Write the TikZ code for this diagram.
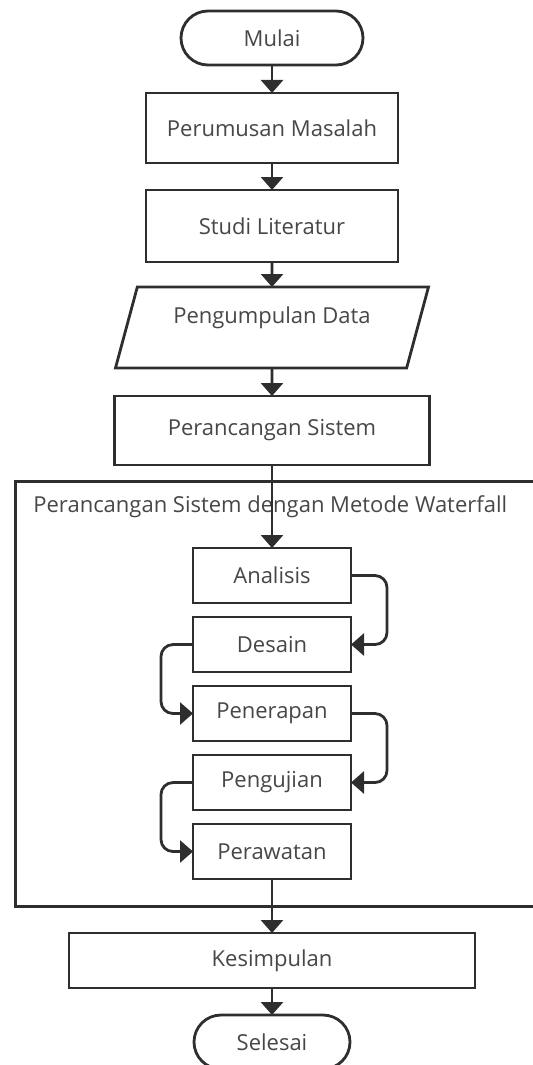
\documentclass[tikz,border=0pt]{standalone}
\usepackage{fontspec}
\setmainfont{Open Sans}
\usetikzlibrary{arrows.meta,positioning,shapes.geometric}

\begin{document}
\begin{tikzpicture}[x=1pt, y=1pt, node distance=14pt,
    every node/.style={font=\fontsize{11}{13}\selectfont, text=black!72},
    box/.style={rectangle, draw=black!82, line width=1.4pt, outer sep=0pt, fill=white, text centered},
    terminal/.style={box, rounded corners=13.5pt, minimum width=78pt, minimum height=27pt},
    stage/.style={box, minimum width=79pt, minimum height=27.5pt},
    conn/.style={-{Triangle[width=11pt,length=6.5pt]}, draw=black!82, line width=1.4pt}]

    \useasboundingbox (0,0) rectangle (266.5,-532.5);

    % frame of the waterfall part
    \node (Waterfall) [rectangle, draw=black!82, line width=1.3pt, anchor=north west, minimum width=268pt, minimum height=212.5pt] at (7,-240) {};
    \node (WaterfallLabel) [anchor=west, inner sep=0pt] at (16.5,-253.5) {Perancangan Sistem dengan Metode Waterfall};

    \node (Mulai) [terminal, minimum width=91pt] at (136,-19) {Mulai};

    \node (Perumusan) [box, minimum width=126pt, minimum height=35pt, below=of Mulai] {Perumusan Masalah};

    \node (Studi) [box, minimum width=126pt, minimum height=36pt, below=13.5pt of Perumusan] {Studi Literatur};

    \node (Pengumpulan) [trapezium, draw=black!82, line width=1.4pt, outer sep=0pt, fill=white, trapezium left angle=68, trapezium right angle=112, trapezium stretches body=true, minimum width=156.5pt, minimum height=40.5pt, text depth=12pt, below=12.5pt of Studi] {Pengumpulan Data};

    \node (Perancangan) [box, minimum width=157.5pt, minimum height=34.5pt, below=of Pengumpulan] {Perancangan Sistem};

    % tahapan waterfall
    \node (Analisis) [stage, below=41.5pt of Perancangan] {Analisis};
    \node (Desain) [stage, below=7pt of Analisis] {Desain};
    \node (Penerapan) [stage, below=7pt of Desain] {Penerapan};
    \node (Pengujian) [stage, below=7pt of Penerapan] {Pengujian};
    \node (Perawatan) [stage, below=7pt of Pengujian] {Perawatan};

    \node (Kesimpulan) [box, minimum width=203pt, minimum height=27.5pt, below=27pt of Perawatan] {Kesimpulan};

    \node (Selesai) [terminal, below=13.5pt of Kesimpulan] {Selesai};

    \draw[conn] (Mulai) -- (Perumusan);
    \draw[conn] (Perumusan) -- (Studi);
    \draw[conn] (Studi) -- (Pengumpulan);
    \draw[conn] (Pengumpulan) -- (Perancangan);
    \draw[conn] (Perancangan) -- (Analisis);

    \draw[conn, rounded corners=6pt] (Analisis.east) -- ++(18pt,0) |- (Desain.east);
    \draw[conn, rounded corners=6pt] (Desain.west) -- ++(-16pt,0) |- (Penerapan.west);
    \draw[conn, rounded corners=6pt] (Penerapan.east) -- ++(18pt,0) |- (Pengujian.east);
    \draw[conn, rounded corners=6pt] (Pengujian.west) -- ++(-16pt,0) |- (Perawatan.west);

    \draw[conn] (Perawatan) -- (Kesimpulan);
    \draw[conn] (Kesimpulan) -- (Selesai);
\end{tikzpicture}
\end{document}
